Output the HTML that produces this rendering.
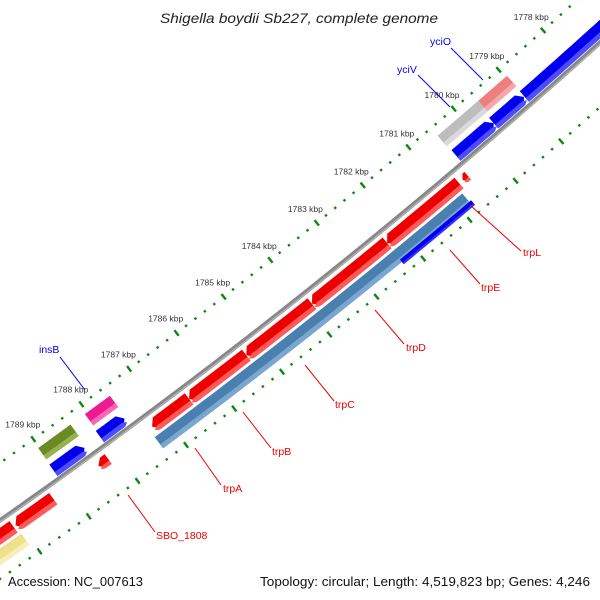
<!DOCTYPE html>
<html><head><meta charset="utf-8">
<style>
html,body{margin:0;padding:0;background:#fff;}
svg{display:block;}
text{font-family:"Liberation Sans",sans-serif;}
</style></head>
<body>
<svg id="map" width="600" height="600" viewBox="0 0 600 600">
<rect x="0" y="0" width="600" height="600" fill="#fff"/>
<g id="ticks"></g>
<g id="backbone"></g>
<g id="features"></g>
<g id="labels"></g>
<text x="160" y="23" textLength="278" lengthAdjust="spacingAndGlyphs" font-size="14" font-style="italic" fill="#222">Shigella boydii Sb227, complete genome</text>
<text x="8" y="586" textLength="135" lengthAdjust="spacingAndGlyphs" font-size="12.5" fill="#111">Accession: NC_007613</text>
<text x="260" y="586" textLength="330" lengthAdjust="spacingAndGlyphs" font-size="12.5" fill="#111">Topology: circular; Length: 4,519,823 bp; Genes: 4,246</text>
</svg>
<script>
// feature data
const featNames = ["big-blue","yciO-arrow","yciV-arrow","yciV","yciO","insB-blue-a","insB-blue-b","olive","insB","small-red","trpL","trpE","trpD","trpC","trpB","trpA","red-x","red-y","yellow","steel-trp","blue-trpE"];
const featStart = [1776.0,1778.98,1779.65,1779.60,1778.96,1788.39,1787.56,1788.35,1787.53,1788.18,1780.55,1780.74,1782.30,1783.91,1785.30,1786.50,1789.31,1790.12,1790.08,1780.81,1780.77];
const featEnd   = [1778.97,1779.65,1780.48,1780.50,1779.60,1789.03,1788.07,1789.02,1788.05,1788.38,1780.66,1782.30,1783.91,1785.30,1786.50,1787.27,1790.08,1791.5,1791.5,1787.34,1782.31];
const featLane  = [-10,-10,-10,-30,-30,-10,-10,-30,-30,13,13,13,13,13,13,13,13,13,30,30,37];
const featHeight= [14,14,14,14,14,14,14,14,14,12,10,14,14,14,14,14,14,14,14,14,6];
const featDir   = [0,-1,-1,0,0,-1,-1,0,0,1,1,1,1,1,1,1,1,1,0,0,0];
const featColor = ["#0000ee","#0000ee","#0000ee","#bdbdbd","#ee7f7f","#0000ee","#0000ee","#6b8a23","#ee1a8f","#ee0000","#ee0000","#ee0000","#ee0000","#ee0000","#ee0000","#ee0000","#ee0000","#ee0000","#eee08c","#4a80b0","#0000ee"];
const featLight = ["#4d4dff","#4d4dff","#4d4dff","#dadada","#f5a8a8","#4d4dff","#4d4dff","#97b34f","#ff66b8","#ff5a5a","#ff5a5a","#ff5a5a","#ff5a5a","#ff5a5a","#ff5a5a","#ff5a5a","#ff5a5a","#ff5a5a","#f8f0b8","#7aa6cf","#3333ff"];
const tickLabels = [1778,1779,1780,1781,1782,1783,1784,1785,1786,1787,1788,1789];

const CX=-3593, CY=-4607, R0=6261;
function ang(k){return (48.27+0.548*(k-1778))*Math.PI/180;}
function pt(k,r){const a=ang(k);return [CX+r*Math.cos(a),CY+r*Math.sin(a)];}
const NS="http://www.w3.org/2000/svg";
function mk(tag,attrs,parent){const e=document.createElementNS(NS,tag);for(const k in attrs)e.setAttribute(k,attrs[k]);parent.appendChild(e);return e;}
function arcPts(k1,k2,r){const n=Math.max(2,Math.ceil(Math.abs(k2-k1)*6));const p=[];for(let i=0;i<=n;i++){const k=k1+(k2-k1)*i/n;p.push(pt(k,r));}return p;}
function ps(p){return p.map(q=>q[0].toFixed(2)+","+q[1].toFixed(2)).join(" ");}

// backbone
const bb=document.getElementById('backbone');
const bl1=mk('polyline',{points:ps(arcPts(1775,1792,R0)),fill:'none',stroke:'#888','stroke-width':4.5},bb);


const bl2=mk('polyline',{points:ps(arcPts(1775,1792,R0+1.2)),fill:'none',stroke:'#b5b5b5','stroke-width':1.2},bb);



// ticks
const tg=document.getElementById('ticks');
[6214,6309].forEach(function(r){
  for(let i=0;i<=16*5;i++){
    const k=1776+i*0.2;
    const major=(i%5===0);
    const len=major?3.5:1.2;
    const a=pt(k,r-len),b=pt(k,r+len);
    const t=mk('line',{x1:a[0],y1:a[1],x2:b[0],y2:b[1],stroke:'#0a8a0a','stroke-width':2.4},tg);
    
    
  }
});
tickLabels.forEach(function(k){
  const p=pt(k,6196);
  const t=mk('text',{x:p[0].toFixed(1),y:(p[1]+3).toFixed(1),'text-anchor':'middle','font-size':'8.5',fill:'#333'},tg);
  t.textContent=k+' kbp';
  
  
});

// features
const fg=document.getElementById('features');
function bandPoly(k1,k2,rIn,rOut,dir,rc,hl){
  let s1=k1,s2=k2;
  if(dir===1)s2=Math.max(k1,k2-hl);
  if(dir===-1)s1=Math.min(k2,k1+hl);
  let p=arcPts(s1,s2,rIn);
  if(dir===1){p.push(pt(k2,rc));}
  let q=arcPts(s1,s2,rOut).reverse();
  p=p.concat(q);
  if(dir===-1){p.push(pt(k1,rc));}
  return p;
}
for(let i=0;i<featNames.length;i++){
  const k1=featStart[i],k2=featEnd[i],rc=R0+featLane[i],h=featHeight[i],dir=featDir[i];
  const hl=Math.min(0.1,(k2-k1)*0.6);
  const g=mk('g',{},fg);
  
  
  mk('polygon',{points:ps(bandPoly(k1,k2,rc-h/2,rc+h/2,dir,rc,hl)),fill:featColor[i]},g);
  mk('polygon',{points:ps(bandPoly(k1,k2,rc+h*0.15,rc+h/2,dir,rc+h*0.32,hl*0.7)),fill:featLight[i]},g);
}

// labels with leader lines
const lg=document.getElementById('labels');
const labText=["trpL","trpE","trpD","trpC","trpB","trpA","SBO_1808","yciO","yciV","insB"];
const labColor=["#e00","#e00","#e00","#e00","#e00","#e00","#e00","#00e","#00e","#00e"];
const labX=[523,481,406,335,272,223,156,430,397,39];
const labY=[256,291,351,408,455,492,539,45,73,353];
const lnX1=[470,450,375,305,243,195,128,451,418,60];
const lnY1=[205,250,310,365,412,448,495,48,75,357];
const lnX2=[521,480,404,334,271,221,155,483,450,85];
const lnY2=[251,284,344,401,448,485,532,80,107,390];
for(let i=0;i<labText.length;i++){
  const l=mk('line',{x1:lnX1[i],y1:lnY1[i],x2:lnX2[i],y2:lnY2[i],stroke:labColor[i],'stroke-width':1},lg);
  
  
  const t=mk('text',{x:labX[i],y:labY[i],'font-size':'10.5',fill:labColor[i]},lg);
  t.textContent=labText[i];
  
  
}
</script>
</body></html>
